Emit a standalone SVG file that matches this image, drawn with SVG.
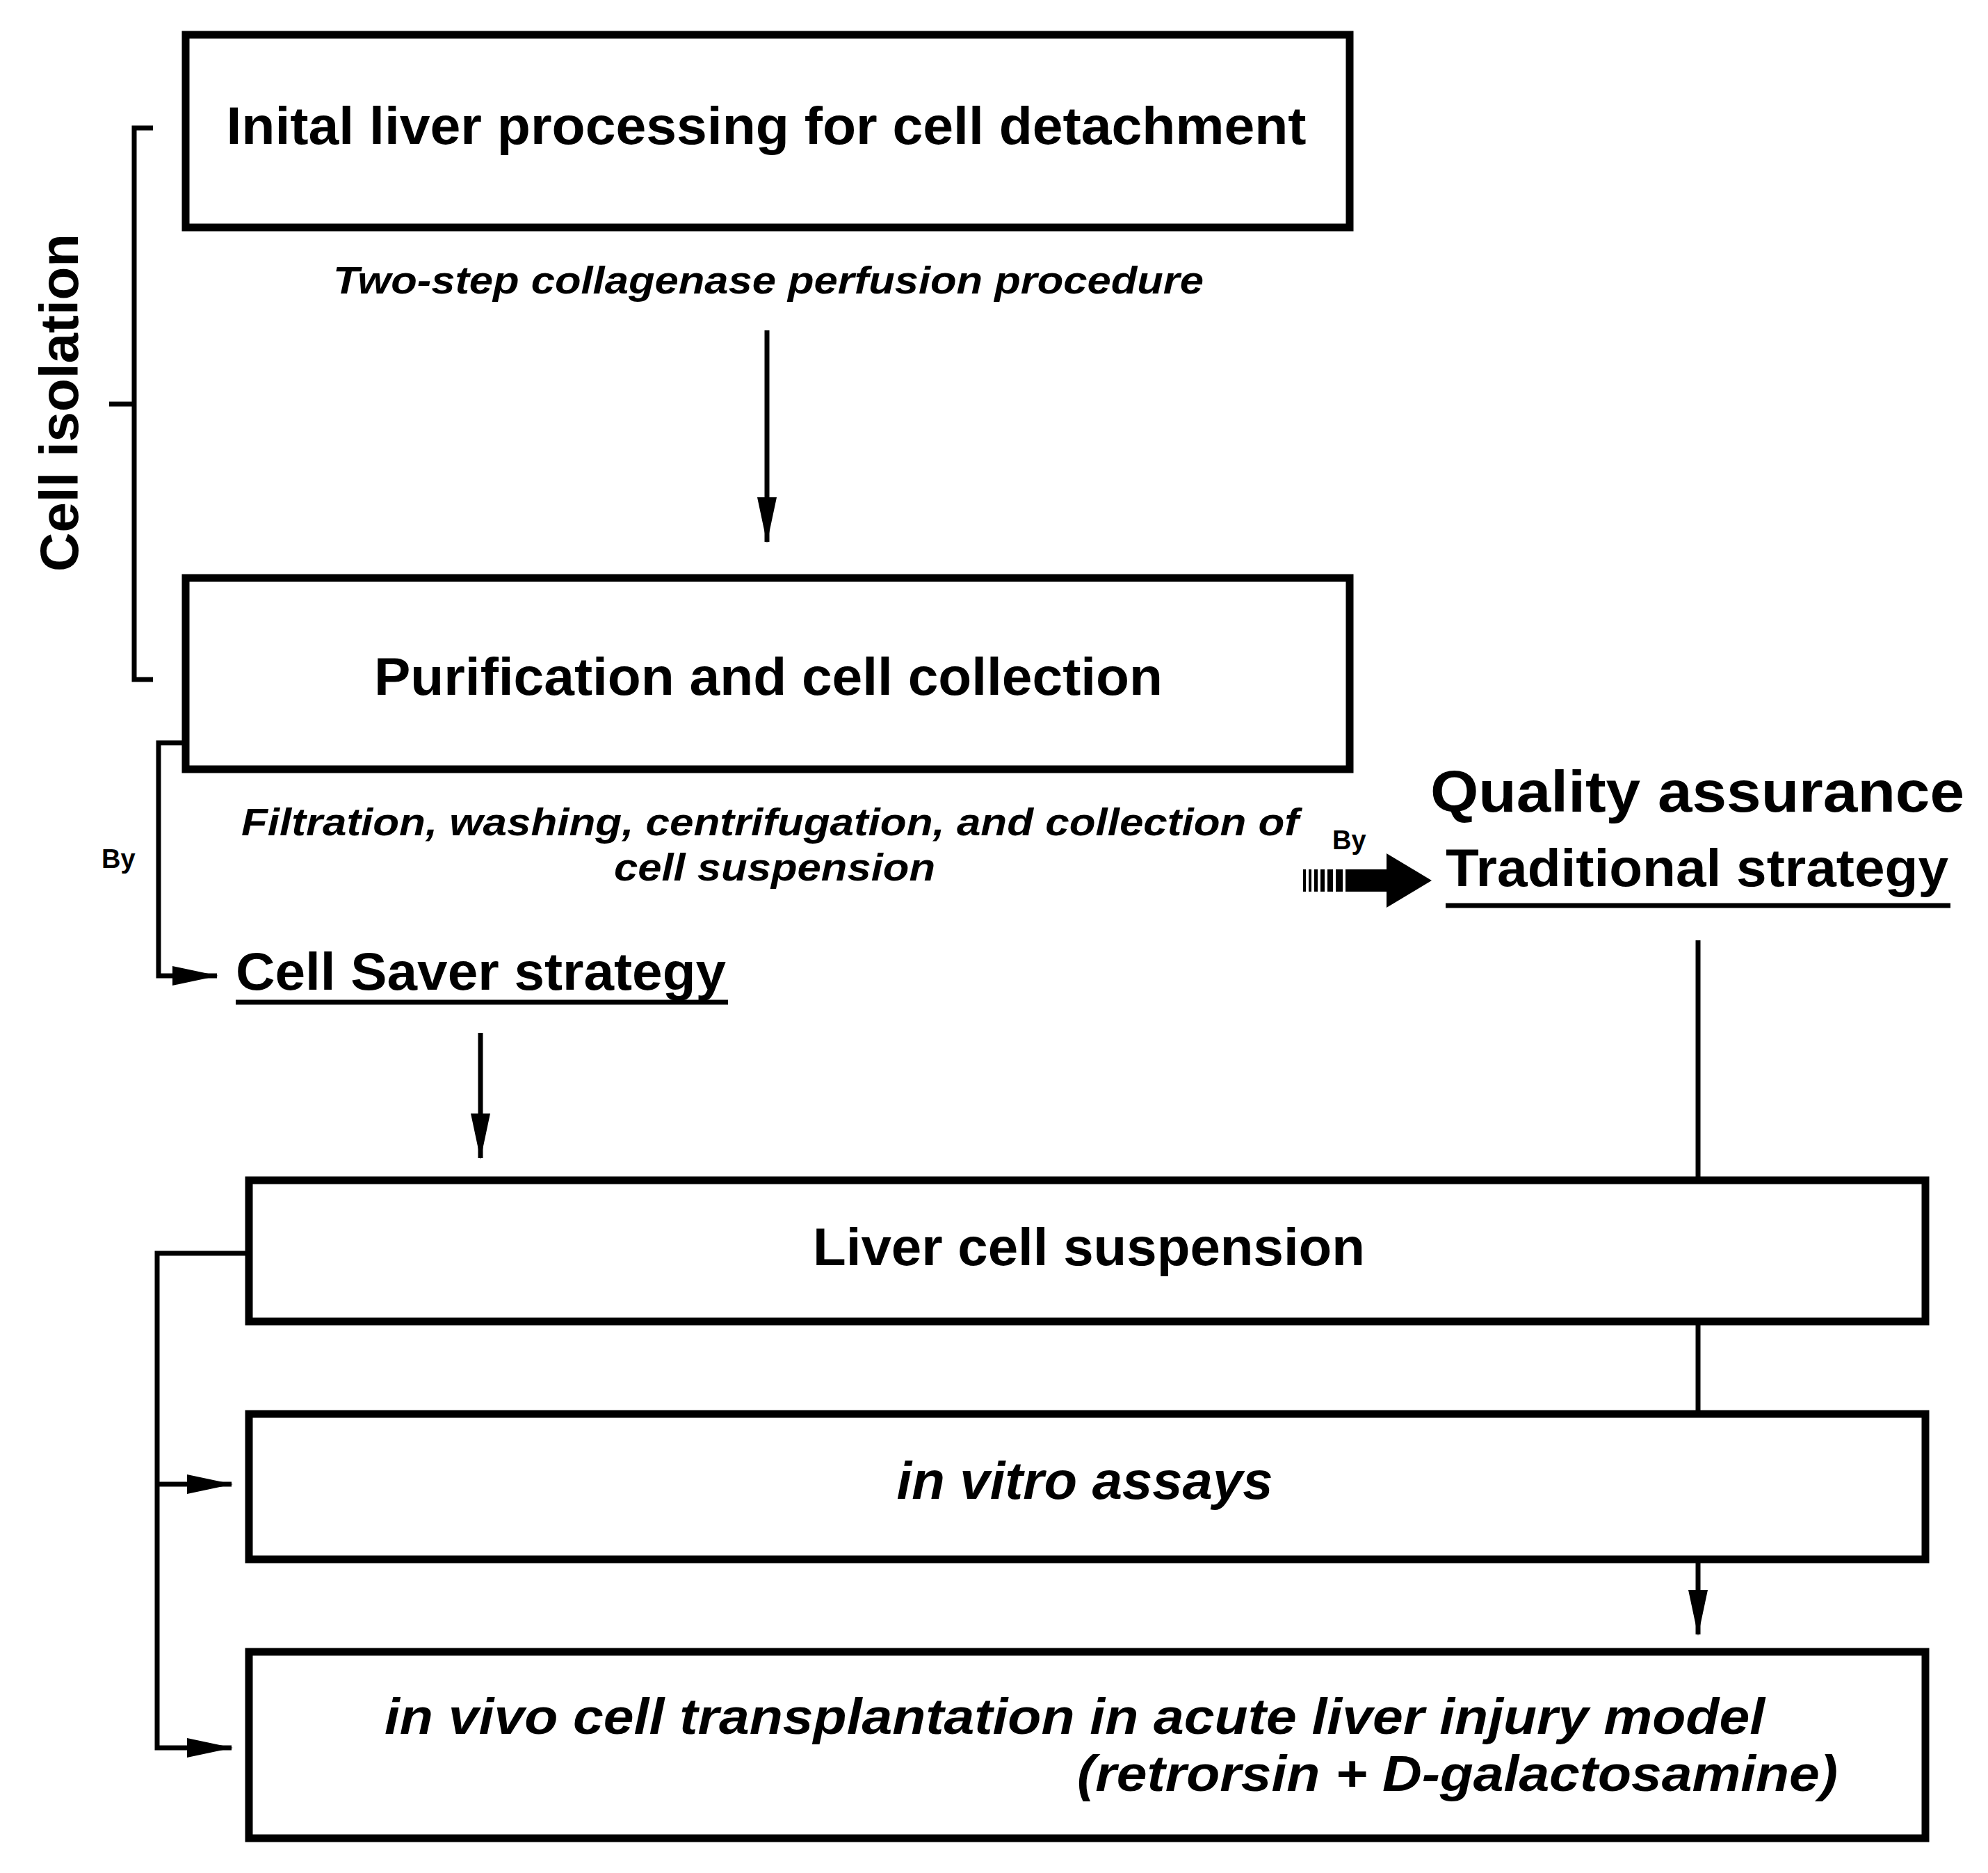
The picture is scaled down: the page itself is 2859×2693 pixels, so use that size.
<svg xmlns="http://www.w3.org/2000/svg" width="2859" height="2693" viewBox="0 0 2859 2693">
<style>
.box{fill:#fff;stroke:#000;stroke-width:11}
.ln{fill:none;stroke:#000;stroke-width:7}
text{font-family:"Liberation Sans",Arial,sans-serif;font-weight:bold;fill:#000}
.it{font-style:italic}
</style>
<defs>
<marker id="ah" markerUnits="userSpaceOnUse" markerWidth="66" markerHeight="28" refX="64" refY="14" orient="auto"><path d="M0,0 L66,14 L0,28 z" fill="#000"/></marker>
</defs>
<g id="bracket"><path class="ln" d="M220,184 H193 V977 H220 M157,581 H193"/>
<text transform="translate(112,579) rotate(-90)" text-anchor="middle" font-size="78" textLength="486" lengthAdjust="spacingAndGlyphs">Cell isolation</text></g>
<g id="n1"><rect class="box" x="267" y="50" width="1674" height="277"/>
<text x="1102" y="207" text-anchor="middle" font-size="76" textLength="1553" lengthAdjust="spacingAndGlyphs">Inital liver processing for cell detachment</text></g>
<text class="it" x="1105" y="422" text-anchor="middle" font-size="56" textLength="1252" lengthAdjust="spacingAndGlyphs">Two-step collagenase perfusion procedure</text>
<g id="n2"><rect class="box" x="267" y="831" width="1674" height="275"/>
<text x="1105" y="999" text-anchor="middle" font-size="76" textLength="1134" lengthAdjust="spacingAndGlyphs">Purification and cell collection</text></g>
<text class="it" x="347" y="1201" font-size="56" textLength="1521" lengthAdjust="spacingAndGlyphs">Filtration, washing, centrifugation, and collection of</text>
<text class="it" x="883" y="1266" font-size="56" textLength="462" lengthAdjust="spacingAndGlyphs">cell suspension</text>
<text x="146" y="1248" font-size="38">By</text>
<g id="n3"><text x="339" y="1423" font-size="76" textLength="705" lengthAdjust="spacingAndGlyphs">Cell Saver strategy</text>
<line class="ln" x1="339" y1="1441" x2="1047" y2="1441" stroke-width="6"/></g>
<g id="n4"><text x="2057" y="1167" font-size="84" textLength="768" lengthAdjust="spacingAndGlyphs">Quality assurance</text>
<text x="2079" y="1274" font-size="76" textLength="723" lengthAdjust="spacingAndGlyphs">Traditional strategy</text>
<line class="ln" x1="2079" y1="1302" x2="2805" y2="1302" stroke-width="6"/>
<text x="1916" y="1221" font-size="38">By</text></g>
<g id="n5"><rect class="box" x="358" y="1697" width="2411" height="203"/>
<text x="1566" y="1819" text-anchor="middle" font-size="76" textLength="794" lengthAdjust="spacingAndGlyphs">Liver cell suspension</text></g>
<g id="n6"><rect class="box" x="358" y="2033" width="2411" height="209"/>
<text class="it" x="1560" y="2155" text-anchor="middle" font-size="76" textLength="541" lengthAdjust="spacingAndGlyphs">in vitro assays</text></g>
<g id="n7"><rect class="box" x="358" y="2375" width="2411" height="268"/>
<text class="it" x="553" y="2493" font-size="72" textLength="1985" lengthAdjust="spacingAndGlyphs">in vivo cell transplantation in acute liver injury model</text>
<text class="it" x="1549" y="2575" font-size="72" textLength="1094" lengthAdjust="spacingAndGlyphs">(retrorsin + D-galactosamine)</text></g>
<g id="connectors">
<line class="ln" x1="1103" y1="475" x2="1103" y2="779" marker-end="url(#ah)"/>
<path class="ln" d="M267,1068 H228 V1403 H312" marker-end="url(#ah)"/>
<line class="ln" x1="691" y1="1485" x2="691" y2="1665" marker-end="url(#ah)"/>
<line class="ln" x1="2442" y1="1352" x2="2442" y2="1697"/>
<line class="ln" x1="2442" y1="1900" x2="2442" y2="2033"/>
<line class="ln" x1="2442" y1="2242" x2="2442" y2="2350" marker-end="url(#ah)"/>
<path class="ln" d="M358,1802 H226 V2513 H333" marker-end="url(#ah)"/>
<path class="ln" d="M226,2134 H333" marker-end="url(#ah)"/>
<g id="blockarrow">
<path d="M1874,1250 h4 v32 h-4 z M1882,1250 h4 v32 h-4 z M1890,1250 h5 v32 h-5 z M1899,1250 h6 v32 h-6 z M1909,1250 h8 v32 h-8 z M1921,1250 h10 v32 h-10 z" fill="#000"/>
<path d="M1935,1250 H1994 V1227 L2059,1266 L1994,1305 V1282 H1935 z" fill="#000"/>
</g>
</g>
</svg>
